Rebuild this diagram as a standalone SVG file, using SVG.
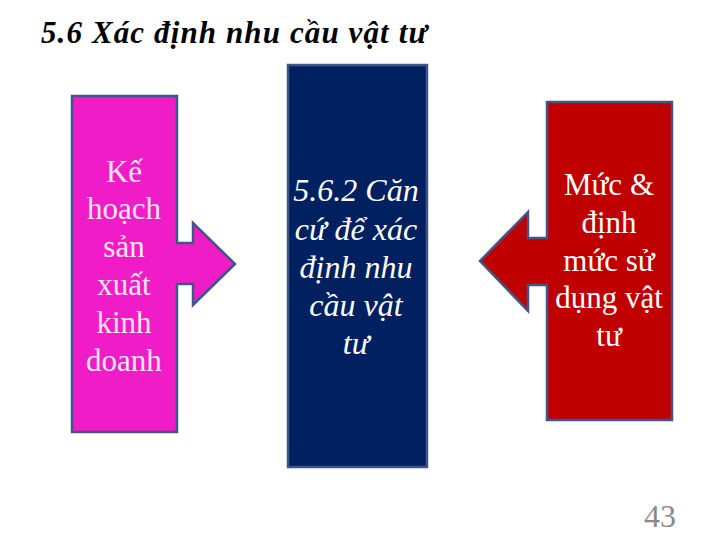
<svg xmlns="http://www.w3.org/2000/svg" width="720" height="540" viewBox="0 0 720 540">
<style>
.box{stroke:#3f5687;stroke-width:2.5}
</style>
<rect width="720" height="540" fill="#ffffff"/>
<text x="41" y="43" font-family="'Liberation Serif', serif" font-size="31" font-weight="bold" font-style="italic" fill="#000" textLength="386" lengthAdjust="spacing">5.6 Xác định nhu cầu vật tư</text>
<g id="node-ke-hoach">
<path class="box" fill="#f01cc8" d="M72,96 H177 V243 H193 V223 L235,264 L193,305 V284 H177 V432 H72 Z"/>
<g font-family="'Liberation Serif', serif" font-size="31" text-anchor="middle" fill="#fbe6f6">
<text x="124" y="182">Kế</text>
<text x="124" y="219">hoạch</text>
<text x="124" y="257">sản</text>
<text x="124" y="295">xuất</text>
<text x="124" y="333">kinh</text>
<text x="124" y="371">doanh</text>
</g>
</g>
<g id="node-can-cu">
<rect class="box" fill="#002060" x="288" y="65" width="139" height="402"/>
<g font-family="'Liberation Serif', serif" font-size="32" font-style="italic" text-anchor="middle" fill="#ffffff">
<text x="356" y="201">5.6.2 Căn</text>
<text x="356" y="240">cứ để xác</text>
<text x="356" y="278">định nhu</text>
<text x="356" y="316">cầu vật</text>
<text x="356" y="354">tư</text>
</g>
</g>
<g id="node-muc">
<path class="box" fill="#c00000" d="M547,102 H672 V420 H547 V285 H528 V311 L480,261 L528,212 V238 H547 Z"/>
<g font-family="'Liberation Serif', serif" font-size="31" text-anchor="middle" fill="#ffffff">
<text x="609" y="195">Mức &amp;</text>
<text x="609" y="233">định</text>
<text x="609" y="271">mức sử</text>
<text x="609" y="308">dụng vật</text>
<text x="609" y="346">tư</text>
</g>
</g>
<g id="connectors"></g>
<text x="676" y="527" font-family="'Liberation Serif', serif" font-size="32" fill="#8a8a8a" text-anchor="end">43</text>
</svg>
